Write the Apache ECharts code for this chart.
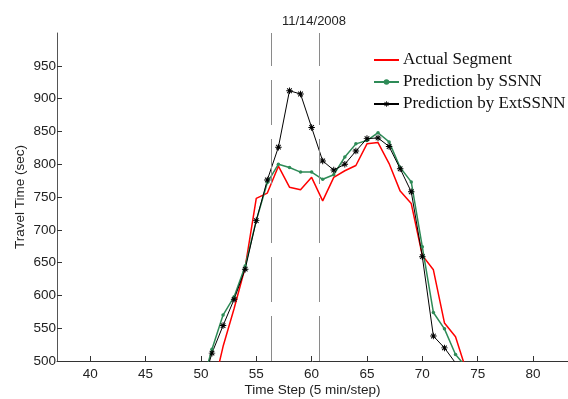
<!DOCTYPE html>
<html><head><meta charset="utf-8">
<script src="https://cdn.jsdelivr.net/npm/echarts@6/dist/echarts.min.js"></script>
<style>html,body{margin:0;padding:0;background:#fff}#c{width:568px;height:399px}</style>
</head><body><div id="c"></div>
<script>
const chartTitle = '11/14/2008';
const seriesNames = ['Actual Segment', 'Prediction by SSNN', 'Prediction by ExtSSNN'];
const timeSteps = [50,51,52,53,54,55,56,57,58,59,60,61,62,63,64,65,66,67,68,69,70,71,72,73,74];
const actualSegment = [null,450,522,580,643,748,756,797,765,761,780,744,780,790,798,831,833,801,759,740,661,639,558,537,484];
const predictionSSNN = [458,518,570,598,645,714,772,800,795,788,788,777,784,811,831,836,848,834,795,773,674,574,549,510,490];
const predictionExtSSNN = [455,512,554,594,640,714,776,826,912,907,856,805,791,800,820,839,840,827,793,758,659,538,520,497,null];
const eventBounds = [56.33, 60.7];
const xTicks = [40,45,50,55,60,65,70,75,80];
const yTicks = [500,550,600,650,700,750,800,850,900,950];

const pairs = arr => timeSteps.map((t, i) => [t, arr[i]]);
const asterisk = 'path://M-6,-0.9L6,-0.9L6,0.9L-6,0.9Z M-0.9,-6L0.9,-6L0.9,6L-0.9,6Z M-4.9,-3.6L-3.6,-4.9L4.9,3.6L3.6,4.9Z M-4.9,3.6L3.6,-4.9L4.9,-3.6L-3.6,4.9Z M0,-2.5L2.5,0L0,2.5L-2.5,0Z';
const axisFont = {fontFamily: 'Liberation Sans, Arial, sans-serif', fontSize: 13.5, color: '#222'};

const chart = echarts.init(document.getElementById('c'), null, {renderer: 'canvas'});
chart.setOption({
  animation: false,
  backgroundColor: '#fff',
  title: {
    text: chartTitle, left: 314, top: 15, padding: 0, textAlign: 'center',
    textStyle: {fontFamily: 'Liberation Sans, Arial, sans-serif', fontSize: 13, fontWeight: 'normal', color: '#222'}
  },
  grid: {left: 57, right: 0, top: 33, bottom: 38, containLabel: false, outerBoundsMode: 'none'},
  legend: {
    orient: 'vertical', left: 373, top: 49, padding: 0, itemGap: 0,
    itemWidth: 25, itemHeight: 7,
    textStyle: {fontFamily: 'Liberation Serif, Times New Roman, serif', fontSize: 17, color: '#111', lineHeight: 22, padding: [0,0,0,-1]},
    data: [
      {name: seriesNames[0], itemStyle: {opacity: 0}},
      {name: seriesNames[1]},
      {name: seriesNames[2]}
    ]
  },
  xAxis: {
    type: 'value', min: 37, max: 83.16,
    name: 'Time Step (5 min/step)', nameLocation: 'middle', nameGap: 22, nameMoveOverlap: false,
    nameTextStyle: axisFont,
    axisLine: {show: true, onZero: false, lineStyle: {color: '#333', width: 1}},
    axisTick: {show: true, inside: true, length: 5, customValues: xTicks, lineStyle: {color: '#333'}},
    axisLabel: {show: true, margin: 6, customValues: xTicks, ...axisFont},
    splitLine: {show: false}
  },
  yAxis: {
    type: 'value', min: 500, max: 1000,
    name: 'Travel Time (sec)', nameLocation: 'middle', nameGap: 30, nameRotate: 90, nameMoveOverlap: false,
    nameTextStyle: axisFont,
    axisLine: {show: true, lineStyle: {color: '#555', width: 1}},
    axisTick: {show: true, inside: true, length: 5, customValues: yTicks, lineStyle: {color: '#333'}},
    axisLabel: {show: true, margin: 1, customValues: yTicks, ...axisFont},
    splitLine: {show: false}
  },
  series: [
    {
      name: seriesNames[0], type: 'line', data: pairs(actualSegment), clip: true,
      showSymbol: false, symbol: 'none', color: '#ff0000',
      lineStyle: {color: '#ff0000', width: 1.5},
      markLine: {
        silent: true, symbol: 'none', label: {show: false},
        lineStyle: {color: '#8a8a8a', width: 1, type: [45, 14]},
        data: eventBounds.map(v => ({xAxis: v}))
      }
    },
    {
      name: seriesNames[1], type: 'line', data: pairs(predictionSSNN), clip: true,
      symbol: 'circle', symbolSize: 3.5, color: '#2e8b57',
      itemStyle: {color: '#2e8b57'},
      lineStyle: {color: '#2e8b57', width: 1.5}
    },
    {
      name: seriesNames[2], type: 'line', data: pairs(predictionExtSSNN), clip: true,
      symbol: asterisk, symbolSize: 6.5, color: '#000',
      itemStyle: {color: '#000'},
      lineStyle: {color: '#000', width: 1}
    }
  ]
});
</script>
</body></html>
